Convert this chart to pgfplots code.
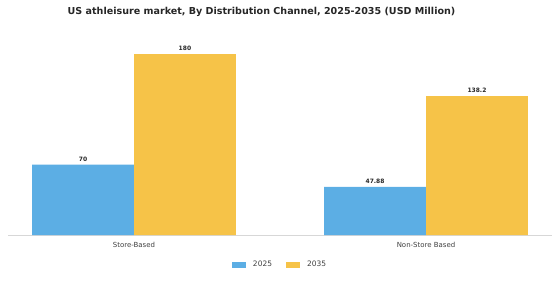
\documentclass[border=0pt]{standalone}
\usepackage{pgfplots}
\pgfplotsset{compat=1.18}
\usepackage{fontspec}
\setmainfont{DejaVu Sans}
\definecolor{cblue}{RGB}{92,174,228}
\definecolor{cyel}{RGB}{246,195,72}
\definecolor{axgray}{RGB}{215,215,215}
\begin{document}
\begin{tikzpicture}[x=1bp,y=1bp]
\path[use as bounding box] (0,0) rectangle (560,280);
\node[font=\bfseries\fontsize{9.6}{11}\selectfont, text=black!85] at (261.5,268.5) {US athleisure market, By Distribution Channel, 2025-2035 (USD Million)};
\begin{axis}[
  at={(8bp,45bp)}, anchor=south west,
  scale only axis, width=544bp, height=201bp,
  xmin=-0.4315, xmax=1.4315, ymin=0, ymax=200,
  ybar=0pt, bar width=0.349,
  axis x line*=bottom, axis y line=none,
  x axis line style={axgray, line width=0.6pt},
  xtick={0,1}, xticklabels={Store-Based,Non-Store Based},
  xtick style={draw=none},
  xticklabel style={font=\fontsize{7}{8}\selectfont, text=black!75, yshift=1pt},
  nodes near coords,
  nodes near coords style={font=\bfseries\fontsize{6}{7}\selectfont, text=black!85, yshift=0pt},
  point meta=explicit symbolic,
  legend style={at={(0.5,-0.11)}, anchor=north, draw=none, legend columns=2,
    font=\fontsize{7.5}{8}\selectfont, text=black!75,
    /tikz/every even column/.append style={column sep=12bp},
    /tikz/every odd column/.append style={column sep=5bp}},
  legend image code/.code={\fill[#1] (0bp,-3bp) rectangle (14bp,3bp);},
]
\addplot[fill=cblue, draw=none] coordinates {(0,70)[70] (1,47.88)[47.88]};
\addplot[fill=cyel, draw=none] coordinates {(0,180)[180] (1,138.2)[138.2]};
\legend{2025,2035}
\end{axis}
\end{tikzpicture}
\end{document}
